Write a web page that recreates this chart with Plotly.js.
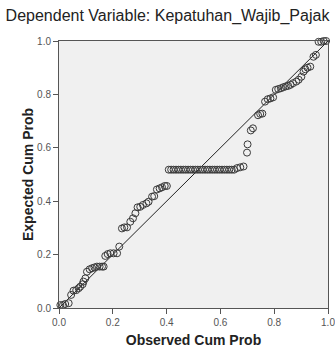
<!DOCTYPE html>
<html>
<head>
<meta charset="utf-8">
<script src="https://cdn.plot.ly/plotly-3.0.1.min.js"></script>
<style>html,body{margin:0;padding:0;background:#fff;}#chart{width:335px;height:351px;}</style>
</head>
<body>
<div id="chart"></div>
<script>
var titleText = "Dependent Variable: Kepatuhan_Wajib_Pajak";
var xTitle = "Observed Cum Prob";
var yTitle = "Expected Cum Prob";
var tickVals = [0, 0.2, 0.4, 0.6, 0.8, 1.0];
var tickText = ["0.0", "0.2", "0.4", "0.6", "0.8", "1.0"];

var observedLow = [0.005, 0.015, 0.023, 0.036, 0.045, 0.054, 0.064, 0.073, 0.079, 0.088, 0.091, 0.098, 0.104, 0.114, 0.123, 0.132, 0.141, 0.151, 0.160, 0.166, 0.172, 0.181, 0.191, 0.203, 0.216, 0.224, 0.234, 0.243, 0.253, 0.265, 0.275, 0.284, 0.292, 0.302, 0.312, 0.325, 0.333, 0.346, 0.354, 0.364, 0.374, 0.383, 0.393, 0.401];
var expectedLow = [0.011, 0.011, 0.015, 0.018, 0.049, 0.065, 0.067, 0.074, 0.080, 0.089, 0.099, 0.111, 0.136, 0.145, 0.149, 0.152, 0.155, 0.155, 0.155, 0.155, 0.195, 0.202, 0.205, 0.205, 0.205, 0.230, 0.298, 0.302, 0.302, 0.323, 0.336, 0.355, 0.377, 0.379, 0.386, 0.392, 0.398, 0.417, 0.419, 0.444, 0.448, 0.452, 0.457, 0.457];

var observedMid = [0.408, 0.417, 0.426, 0.435, 0.444, 0.453, 0.462, 0.471, 0.480, 0.489, 0.498, 0.507, 0.516, 0.525, 0.534, 0.543, 0.552, 0.561, 0.570, 0.579, 0.588, 0.597, 0.606, 0.615, 0.624, 0.633, 0.642, 0.651, 0.662, 0.674, 0.686];
var expectedMid = [0.518, 0.518, 0.518, 0.518, 0.518, 0.518, 0.518, 0.518, 0.518, 0.518, 0.518, 0.518, 0.518, 0.518, 0.518, 0.518, 0.518, 0.518, 0.518, 0.518, 0.518, 0.518, 0.518, 0.518, 0.518, 0.518, 0.518, 0.518, 0.524, 0.527, 0.530];

var observedHigh = [0.699, 0.701, 0.713, 0.721, 0.740, 0.748, 0.756, 0.766, 0.776, 0.786, 0.796, 0.806, 0.815, 0.825, 0.834, 0.843, 0.852, 0.861, 0.870, 0.882, 0.891, 0.901, 0.909, 0.916, 0.924, 0.934, 0.946, 0.955, 0.965, 0.975, 0.984, 0.993];
var expectedHigh = [0.582, 0.613, 0.665, 0.673, 0.722, 0.727, 0.728, 0.773, 0.782, 0.785, 0.789, 0.817, 0.820, 0.823, 0.827, 0.830, 0.832, 0.836, 0.842, 0.848, 0.855, 0.866, 0.885, 0.894, 0.900, 0.904, 0.941, 0.948, 0.997, 0.997, 1.000, 1.000];

var refLineX = [0, 1];
var refLineY = [0, 1];

var obs = observedLow.concat(observedMid, observedHigh);
var exp = expectedLow.concat(expectedMid, expectedHigh);

var font = "'Liberation Sans', Arial, sans-serif";

var traces = [
  {x: refLineX, y: refLineY, type: 'scatter', mode: 'lines', line: {color: '#222', width: 1}, hoverinfo: 'skip', cliponaxis: false},
  {x: obs, y: exp, type: 'scatter', mode: 'markers', cliponaxis: false,
   marker: {symbol: 'circle-open', size: 7, color: '#3a3a3a', line: {width: 1, color: '#3a3a3a'}}}
];

var axisCommon = {
  range: [0, 1], tickvals: tickVals, ticktext: tickText,
  ticks: 'outside', ticklen: 5, tickwidth: 1, tickcolor: '#555',
  showline: true, linecolor: '#555', linewidth: 1, mirror: true,
  showgrid: false, zeroline: false, ticklabeloverflow: 'allow',
  tickfont: {family: font, size: 10, color: '#555'}
};

var layout = {
  width: 335, height: 351,
  margin: {l: 59, r: 7, t: 41, b: 43, pad: 0},
  paper_bgcolor: '#ffffff', plot_bgcolor: '#f0f0f0',
  showlegend: false,
  title: {text: titleText, font: {family: font, size: 16, color: '#222'}, xref: 'container', x: 0.5, xanchor: 'center', yref: 'container', y: 0.957, yanchor: 'middle'},
  xaxis: Object.assign({}, axisCommon, {title: {text: '<b>' + xTitle + '</b>', font: {family: font, size: 14, color: '#222'}, standoff: 8}}),
  yaxis: Object.assign({}, axisCommon, {title: {text: '<b>' + yTitle + '</b>', font: {family: font, size: 14, color: '#222'}, standoff: 0}})
};

Plotly.newPlot('chart', traces, layout, {staticPlot: true, displayModeBar: false});
</script>
</body>
</html>
